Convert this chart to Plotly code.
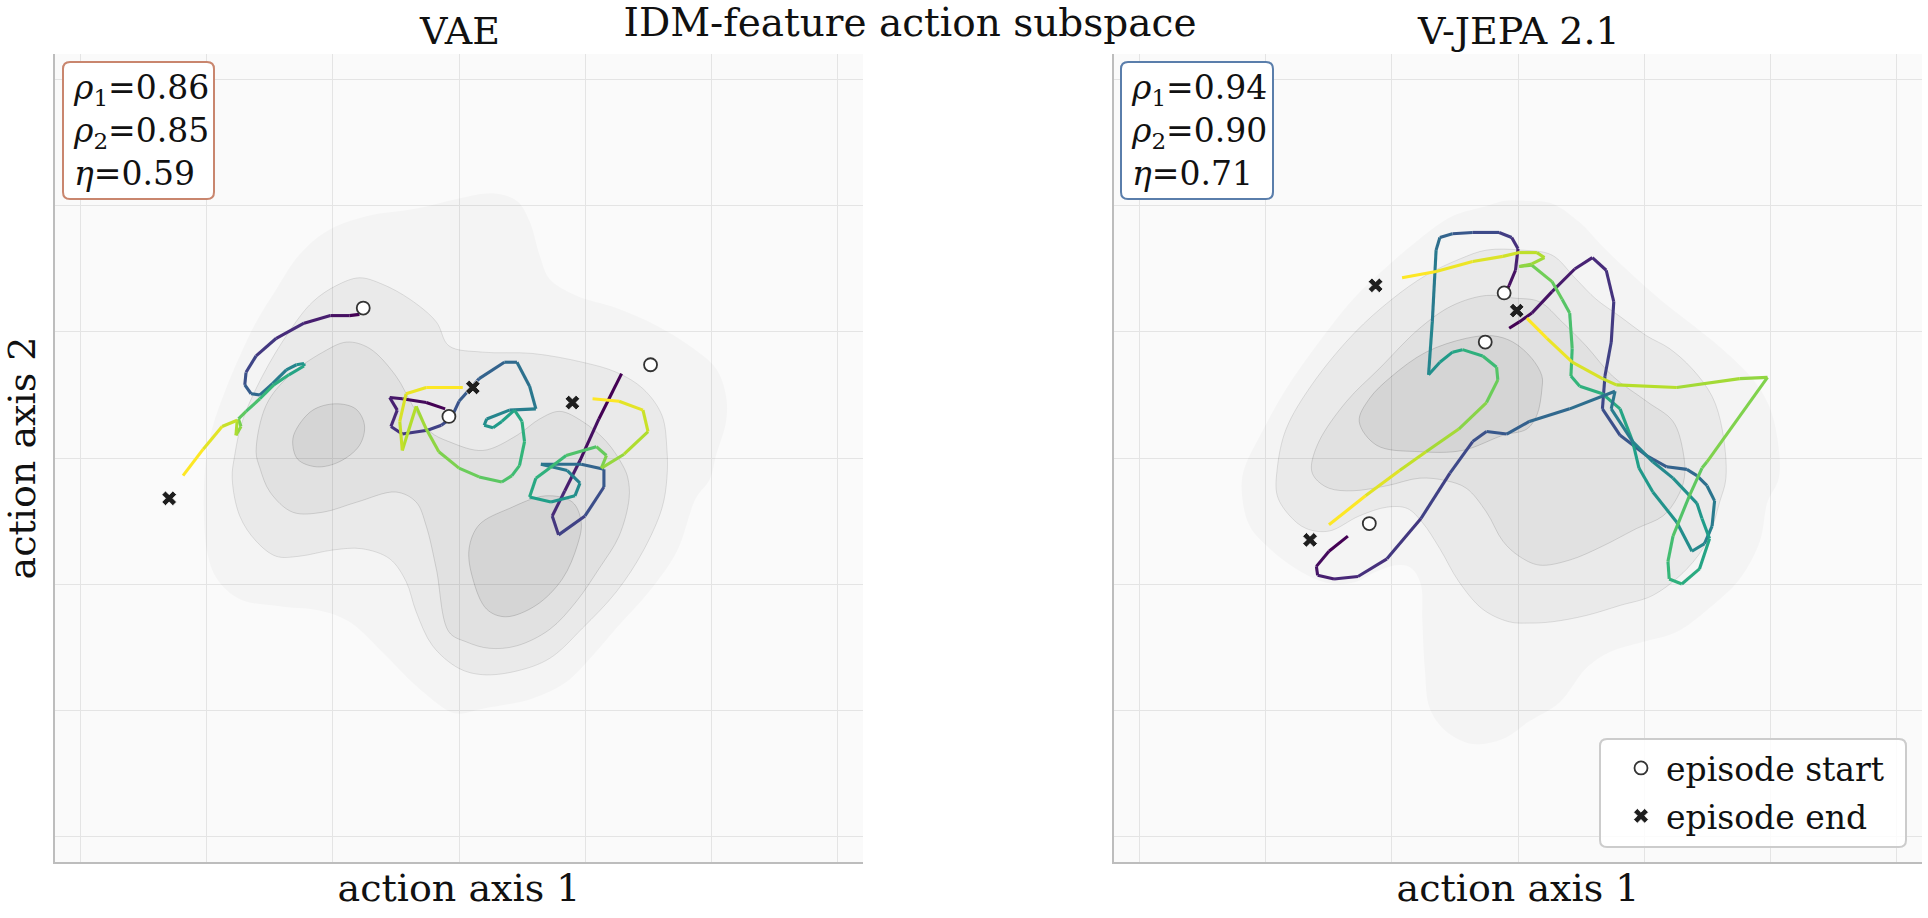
import plotly.graph_objects as go
from plotly.colors import sample_colorscale

# ---------------------------------------------------------------- data
# VAE panel: three episodes (action axis 1, action axis 2)
vae_a_x = [-0.79, -0.87, -1.02, -1.23, -1.45, -1.61, -1.69, -1.70, -1.65, -1.58, -1.48, -1.37, -1.29,
           -1.23, -1.23, -1.35, -1.47, -1.58, -1.69, -1.75, -1.73, -1.77, -1.76, -1.88, -2.03, -2.19]
vae_a_y = [1.14, 1.13, 1.13, 1.07, 0.95, 0.81, 0.68, 0.58, 0.51, 0.50, 0.59, 0.70, 0.74,
           0.75, 0.73, 0.66, 0.58, 0.47, 0.37, 0.31, 0.25, 0.18, 0.30, 0.25, 0.07, -0.14]
vae_b_x = [-0.11, -0.26, -0.45, -0.55, -0.49, -0.54, -0.45, -0.25, -0.14, -0.06, 0.00, 0.16, 0.36,
           0.46, 0.56, 0.61, 0.40, 0.22, 0.20, 0.27, 0.34, 0.44, 0.50, 0.52, 0.48, 0.42, 0.34,
           0.16, 0.00, -0.16, -0.26, -0.34, -0.45, -0.47, -0.42, -0.26, 0.03]
vae_b_y = [0.39, 0.44, 0.47, 0.48, 0.38, 0.25, 0.19, 0.22, 0.26, 0.32, 0.45, 0.63, 0.76,
           0.76, 0.57, 0.39, 0.38, 0.31, 0.26, 0.24, 0.29, 0.38, 0.29, 0.13, -0.06, -0.14, -0.19,
           -0.15, -0.08, 0.05, 0.23, 0.41, 0.06, 0.29, 0.51, 0.56, 0.56]
vae_c_x = [1.29, 1.11, 0.96, 0.84, 0.74, 0.79, 1.00, 1.15, 1.15, 0.97, 0.65, 0.86, 0.96, 0.92,
           0.73, 0.56, 0.61, 0.72, 0.85, 1.09, 1.17, 1.13, 1.31, 1.50, 1.46, 1.27, 1.06]
vae_c_y = [0.67, 0.31, -0.02, -0.26, -0.46, -0.61, -0.46, -0.23, -0.09, -0.05, -0.05, -0.10, -0.20,
           -0.30, -0.35, -0.31, -0.16, -0.08, 0.02, 0.09, 0.02, -0.08, 0.03, 0.21, 0.38, 0.45, 0.47]
vae_start_x = [-0.76, -0.08, 1.52]
vae_start_y = [1.19, 0.33, 0.74]
vae_end_x = [-2.30, 0.11, 0.90]
vae_end_y = [-0.32, 0.56, 0.44]

# V-JEPA 2.1 panel: three episodes
vj_d_x = [-0.09, -0.07, -0.02, 0.00, -0.05, -0.15, -0.36, -0.52, -0.62, -0.65, -0.68, -0.71,
          -0.62, -0.52, -0.44, -0.28, -0.17, -0.16, -0.25, -0.47, -0.73, -0.94, -1.21, -1.50]
vj_d_y = [1.33, 1.37, 1.49, 1.66, 1.75, 1.79, 1.79, 1.78, 1.75, 1.65, 1.08, 0.66,
          0.76, 0.84, 0.86, 0.81, 0.72, 0.62, 0.44, 0.23, 0.05, -0.10, -0.30, -0.53]
vj_e_x = [-0.07, 0.01, 0.11, 0.27, 0.45, 0.59, 0.70, 0.76, 0.74, 0.69, 0.67, 0.81, 1.02, 1.18,
          1.34, 1.42, 1.50, 1.56, 1.54, 1.48, 1.38, 1.26, 1.07, 0.96, 0.91, 0.81, 0.67, 0.49,
          0.42, 0.43, 0.41, 0.35, 0.27, 0.11, 0.01, 0.11, 0.21, 0.15, 0.01, -0.12, -0.36, -0.65, -0.92]
vj_e_y = [1.03, 1.08, 1.15, 1.32, 1.50, 1.59, 1.49, 1.24, 0.92, 0.65, 0.39, 0.18, 0.02, -0.07,
          -0.09, -0.14, -0.22, -0.34, -0.54, -0.68, -0.74, -0.51, -0.27, -0.08, 0.13, 0.39, 0.51, 0.57,
          0.65, 0.87, 1.15, 1.26, 1.40, 1.53, 1.52, 1.54, 1.59, 1.63, 1.63, 1.60, 1.56, 1.48, 1.43]
vj_f_x = [-1.35, -1.50, -1.60, -1.59, -1.46, -1.27, -1.04, -0.77, -0.54, -0.36, -0.25, -0.09, 0.09,
          0.41, 0.77, 0.74, 0.91, 1.07, 1.23, 1.42, 1.46, 1.52, 1.44, 1.30, 1.20, 1.19, 1.23, 1.36,
          1.46, 1.50, 1.98, 1.76, 1.26, 0.78, 0.67, 0.43, 0.23, 0.07]
vj_f_y = [-0.62, -0.74, -0.86, -0.93, -0.96, -0.94, -0.80, -0.48, -0.12, 0.13, 0.21, 0.19, 0.29,
          0.39, 0.53, 0.39, 0.13, -0.03, -0.16, -0.36, -0.48, -0.64, -0.88, -1.00, -0.96, -0.82, -0.62,
          -0.30, -0.08, -0.03, 0.64, 0.63, 0.56, 0.58, 0.63, 0.76, 0.95, 1.11]
vj_start_x = [-0.11, -0.26, -1.18]
vj_start_y = [1.31, 0.92, -0.52]
vj_end_x = [-1.65, -1.13, -0.01]
vj_end_y = [-0.65, 1.37, 1.17]

# metrics shown in the boxes
vae_metrics = [0.86, 0.85, 0.59]
vj_metrics = [0.94, 0.90, 0.71]
metric_names = ["<i>ρ</i><sub>1</sub>", "<i>ρ</i><sub>2</sub>", "<i>η</i>"]

# density contour levels (outer -> inner)
vae_lvl1 = [(0.00, 2.06), (0.27, 2.10), (0.46, 2.04), (0.56, 1.88), (0.64, 1.61), (0.72, 1.42), (0.93, 1.29),
            (1.25, 1.19), (1.57, 1.05), (1.83, 0.89), (2.04, 0.71), (2.12, 0.49), (2.12, 0.29), (2.04, 0.02),
            (1.99, -0.17), (1.88, -0.32), (1.73, -0.74), (1.51, -1.06), (1.25, -1.35), (1.06, -1.57),
            (0.85, -1.78), (0.58, -1.91), (0.19, -1.99), (0.00, -2.03), (-0.08, -2.01), (-0.34, -1.81),
            (-0.61, -1.54), (-0.87, -1.30), (-1.11, -1.21), (-1.40, -1.18), (-1.74, -1.12), (-1.92, -0.96),
            (-2.00, -0.74), (-2.02, -0.14), (-1.96, 0.23), (-1.85, 0.55), (-1.74, 0.81), (-1.61, 1.08),
            (-1.45, 1.34), (-1.27, 1.61), (-1.05, 1.80), (-0.73, 1.92), (-0.34, 1.98)]
vae_lvl2 = [(-0.79, 1.43), (-0.61, 1.38), (-0.39, 1.26), (-0.18, 1.08), (-0.08, 0.89), (0.19, 0.84),
            (0.58, 0.83), (0.98, 0.76), (1.25, 0.68), (1.46, 0.55), (1.61, 0.34), (1.65, 0.07), (1.65, -0.16),
            (1.61, -0.40), (1.46, -0.74), (1.25, -1.06), (0.98, -1.35), (0.72, -1.59), (0.46, -1.69),
            (0.19, -1.72), (0.00, -1.67), (-0.21, -1.49), (-0.34, -1.22), (-0.42, -0.98), (-0.55, -0.80),
            (-0.77, -0.72), (-1.00, -0.73), (-1.27, -0.78), (-1.45, -0.78), (-1.61, -0.66), (-1.74, -0.46),
            (-1.80, -0.16), (-1.78, 0.02), (-1.72, 0.29), (-1.56, 0.65), (-1.35, 1.00), (-1.16, 1.24),
            (-0.97, 1.37)]
vae_lvl3 = [(-0.89, 0.92), (-0.71, 0.87), (-0.50, 0.65), (-0.37, 0.42), (-0.23, 0.21), (-0.08, 0.13),
            (0.19, 0.06), (0.46, 0.18), (0.64, 0.31), (0.80, 0.37), (0.98, 0.29), (1.17, 0.13), (1.30, -0.06),
            (1.34, -0.16), (1.35, -0.32), (1.27, -0.62), (1.11, -0.88), (0.93, -1.14), (0.72, -1.36),
            (0.46, -1.49), (0.24, -1.51), (0.06, -1.46), (-0.08, -1.38), (-0.18, -0.88), (-0.26, -0.54),
            (-0.34, -0.35), (-0.50, -0.27), (-0.81, -0.35), (-1.08, -0.43), (-1.32, -0.43), (-1.50, -0.27),
            (-1.58, -0.08), (-1.61, 0.05), (-1.53, 0.42), (-1.35, 0.65), (-1.08, 0.84)]
vae_lvl4a = [(-0.98, 0.43), (-0.82, 0.39), (-0.75, 0.26), (-0.79, 0.10), (-0.95, -0.03), (-1.13, -0.07),
             (-1.28, -0.01), (-1.32, 0.13), (-1.29, 0.23), (-1.16, 0.38)]
vae_lvl4b = [(0.69, -0.30), (0.90, -0.35), (0.97, -0.51), (0.94, -0.69), (0.82, -0.96), (0.61, -1.17),
             (0.37, -1.26), (0.22, -1.20), (0.11, -0.96), (0.08, -0.72), (0.16, -0.53), (0.40, -0.40)]

vj_lvl1 = [(-0.12, 2.04), (0.09, 2.04), (0.27, 2.02), (0.49, 1.87), (0.67, 1.68), (0.88, 1.48), (1.15, 1.24),
           (1.42, 1.03), (1.65, 0.84), (1.86, 0.63), (1.99, 0.42), (2.06, 0.15), (2.07, -0.16), (1.98, -0.35),
           (1.92, -0.66), (1.76, -0.96), (1.52, -1.19), (1.26, -1.38), (0.99, -1.46), (0.73, -1.54),
           (0.54, -1.67), (0.33, -1.94), (0.09, -2.09), (-0.12, -2.23), (-0.36, -2.27), (-0.57, -2.17),
           (-0.70, -1.99), (-0.74, -1.67), (-0.76, -1.28), (-0.77, -1.01), (-0.84, -0.88), (-0.94, -0.85),
           (-1.12, -0.90), (-1.31, -0.99), (-1.52, -0.99), (-1.76, -0.88), (-1.97, -0.72), (-2.13, -0.54),
           (-2.19, -0.30), (-2.18, -0.11), (-2.03, 0.21), (-1.84, 0.55), (-1.58, 0.92), (-1.31, 1.26),
           (-1.04, 1.52), (-0.78, 1.74), (-0.52, 1.92), (-0.25, 2.00)]
vj_lvl2 = [(-0.25, 1.65), (0.03, 1.65), (0.27, 1.61), (0.46, 1.42), (0.62, 1.26), (0.80, 1.13), (1.02, 0.97),
           (1.20, 0.87), (1.38, 0.71), (1.54, 0.49), (1.62, 0.23), (1.65, -0.16), (1.60, -0.35), (1.50, -0.66),
           (1.34, -0.88), (1.07, -1.09), (0.81, -1.17), (0.54, -1.25), (0.27, -1.30), (0.09, -1.31),
           (-0.07, -1.30), (-0.28, -1.20), (-0.47, -0.98), (-0.62, -0.72), (-0.76, -0.51), (-0.88, -0.40),
           (-1.04, -0.39), (-1.26, -0.46), (-1.50, -0.58), (-1.68, -0.56), (-1.81, -0.46), (-1.91, -0.30),
           (-1.91, -0.08), (-1.84, 0.23), (-1.63, 0.59), (-1.30, 0.99), (-1.00, 1.26), (-0.73, 1.45),
           (-0.46, 1.58)]
vj_lvl3 = [(-1.64, -0.08), (-1.58, 0.13), (-1.36, 0.45), (-1.10, 0.71), (-0.78, 1.03), (-0.52, 1.21),
           (-0.25, 1.29), (-0.04, 1.27), (0.17, 1.24), (0.35, 1.08), (0.54, 0.89), (0.75, 0.65), (1.02, 0.45),
           (1.23, 0.29), (1.31, 0.05), (1.32, -0.16), (1.26, -0.32), (1.15, -0.46), (0.94, -0.56),
           (0.67, -0.70), (0.41, -0.81), (0.17, -0.85), (0.01, -0.78), (-0.12, -0.66), (-0.25, -0.43),
           (-0.41, -0.24), (-0.57, -0.18), (-0.78, -0.16), (-1.04, -0.22), (-1.31, -0.26), (-1.50, -0.24),
           (-1.61, -0.16)]
vj_lvl4 = [(-1.26, 0.29), (-1.18, 0.47), (-1.00, 0.65), (-0.73, 0.84), (-0.41, 0.95), (-0.20, 0.97),
           (-0.04, 0.92), (0.11, 0.79), (0.19, 0.65), (0.19, 0.55), (0.15, 0.34), (0.07, 0.23), (-0.12, 0.18),
           (-0.44, 0.06), (-0.78, 0.05), (-1.12, 0.10)]

# ---------------------------------------------------------------- layout geometry
W, H = 1928, 918
ML, MR, MT, MB = 55, 6, 54, 56
PW, PH = W - ML - MR, H - MT - MB
AX_RANGE = [-3.206, 3.206]
FONT = "DejaVu Serif"


def px_x(p):
    return (p - ML) / PW


def px_y(p):
    return (H - MB - p) / PH


fig = go.Figure()

LEVEL_FILL = ["rgba(0,0,0,0.022)", "rgba(0,0,0,0.038)", "rgba(0,0,0,0.036)", "rgba(0,0,0,0.05)"]
LEVEL_LINE = ["rgba(0,0,0,0)", "rgba(0,0,0,0.10)", "rgba(0,0,0,0.12)", "rgba(0,0,0,0.14)"]


def add_density(levels, xa, ya):
    for lvl, poly in levels:
        xs = [p[0] for p in poly] + [poly[0][0]]
        ys = [p[1] for p in poly] + [poly[0][1]]
        fig.add_trace(go.Scatter(x=xs, y=ys, mode="lines", fill="toself",
                                 fillcolor=LEVEL_FILL[lvl],
                                 line=dict(color=LEVEL_LINE[lvl], width=1, shape="spline", smoothing=1.0),
                                 hoverinfo="skip", showlegend=False, xaxis=xa, yaxis=ya))


def add_episode(xs, ys, xa, ya):
    n = len(xs)
    cols = sample_colorscale("Viridis", [i / (n - 2) for i in range(n - 1)])
    for i in range(n - 1):
        fig.add_trace(go.Scatter(x=xs[i:i + 2], y=ys[i:i + 2], mode="lines",
                                 line=dict(color=cols[i], width=3.1),
                                 hoverinfo="skip", showlegend=False, xaxis=xa, yaxis=ya))


def add_markers(sx, sy, ex, ey, xa, ya, legend):
    fig.add_trace(go.Scatter(x=sx, y=sy, mode="markers", name="episode start",
                             marker=dict(symbol="circle", size=13, color="white",
                                         line=dict(color="#333333", width=1.8)),
                             legendgroup="start", showlegend=legend, xaxis=xa, yaxis=ya))
    fig.add_trace(go.Scatter(x=ex, y=ey, mode="markers", name="episode end",
                             marker=dict(symbol="x", size=13, color="#1e1e1e",
                                         line=dict(color="white", width=0.8)),
                             legendgroup="end", showlegend=legend, xaxis=xa, yaxis=ya))


add_density([(0, vae_lvl1), (1, vae_lvl2), (2, vae_lvl3), (3, vae_lvl4a), (3, vae_lvl4b)], "x", "y")
add_density([(0, vj_lvl1), (1, vj_lvl2), (2, vj_lvl3), (3, vj_lvl4)], "x2", "y2")

for ex_, ey_ in [(vae_a_x, vae_a_y), (vae_b_x, vae_b_y), (vae_c_x, vae_c_y)]:
    add_episode(ex_, ey_, "x", "y")
for ex_, ey_ in [(vj_d_x, vj_d_y), (vj_e_x, vj_e_y), (vj_f_x, vj_f_y)]:
    add_episode(ex_, ey_, "x2", "y2")

add_markers(vae_start_x, vae_start_y, vae_end_x, vae_end_y, "x", "y", False)
add_markers(vj_start_x, vj_start_y, vj_end_x, vj_end_y, "x2", "y2", True)


# ---------------------------------------------------------------- boxes
def rounded_box(x0, y0, x1, y1, r):
    a, b = px_x(x0), px_x(x1)
    top, bot = px_y(y0), px_y(y1)
    rx, ry = r / PW, r / PH
    return (f"M {a + rx},{top} L {b - rx},{top} Q {b},{top} {b},{top - ry} "
            f"L {b},{bot + ry} Q {b},{bot} {b - rx},{bot} L {a + rx},{bot} "
            f"Q {a},{bot} {a},{bot + ry} L {a},{top - ry} Q {a},{top} {a + rx},{top} Z")


shapes = [
    dict(type="path", xref="paper", yref="paper", path=rounded_box(63, 62, 214, 199, 7),
         fillcolor="white", line=dict(color="#c9866e", width=2)),
    dict(type="path", xref="paper", yref="paper", path=rounded_box(1121, 62, 1273, 199, 7),
         fillcolor="white", line=dict(color="#5a7eab", width=2)),
    dict(type="path", xref="paper", yref="paper", path=rounded_box(1600, 739, 1906, 847, 7),
         fillcolor="rgba(255,255,255,0.85)", line=dict(color="#cccccc", width=2)),
]


def metric_text(vals):
    return "<br>".join(f"{n}={v:.2f}" for n, v in zip(metric_names, vals))


annotations = [
    dict(text=metric_text(vae_metrics), xref="paper", yref="paper", x=px_x(71), y=px_y(66),
         xanchor="left", yanchor="top", align="left", showarrow=False,
         font=dict(family=FONT, size=33, color="#111")),
    dict(text=metric_text(vj_metrics), xref="paper", yref="paper", x=px_x(1129), y=px_y(66),
         xanchor="left", yanchor="top", align="left", showarrow=False,
         font=dict(family=FONT, size=33, color="#111")),
    dict(text="VAE", xref="paper", yref="paper", x=px_x(459), y=px_y(31),
         xanchor="center", yanchor="middle", showarrow=False,
         font=dict(family=FONT, size=38, color="#111")),
    dict(text="V-JEPA 2.1", xref="paper", yref="paper", x=px_x(1518), y=px_y(31),
         xanchor="center", yanchor="middle", showarrow=False,
         font=dict(family=FONT, size=38, color="#111")),
]

axis_common = dict(range=AX_RANGE, dtick=1, tick0=0, showgrid=True, gridcolor="#e4e4e4", gridwidth=1,
                   zeroline=False, showticklabels=False, ticks="", showline=True,
                   linecolor="#bdbdbd", linewidth=1.5, mirror=False, automargin=False, fixedrange=True)

left_w = 808 / PW
right_x0 = (1114 - ML) / PW

fig.update_layout(
    width=W, height=H, template="none",
    margin=dict(l=ML, r=MR, t=MT, b=MB),
    paper_bgcolor="white", plot_bgcolor="#fafafa",
    font=dict(family=FONT, color="#111"),
    title=dict(text="IDM-feature action subspace", x=910 / W, xref="container", xanchor="center",
               y=1 - 22 / H, yref="container", yanchor="middle",
               font=dict(family=FONT, size=39, color="#111")),
    xaxis=dict(domain=[0, left_w], anchor="y",
               title=dict(text="action axis 1", font=dict(size=38), standoff=12), **axis_common),
    yaxis=dict(domain=[0, 1], anchor="x",
               title=dict(text="action axis 2", font=dict(size=38), standoff=8), **axis_common),
    xaxis2=dict(domain=[right_x0, 1], anchor="y2",
                title=dict(text="action axis 1", font=dict(size=38), standoff=12), **axis_common),
    yaxis2=dict(domain=[0, 1], anchor="x2", **axis_common),
    shapes=shapes, annotations=annotations,
    showlegend=True,
    legend=dict(x=px_x(1616), y=px_y(740), xanchor="left", yanchor="top",
                bgcolor="rgba(0,0,0,0)", borderwidth=0, tracegroupgap=2,
                font=dict(family=FONT, size=33, color="#111"), itemwidth=40),
)

fig.write_html("out.html")
